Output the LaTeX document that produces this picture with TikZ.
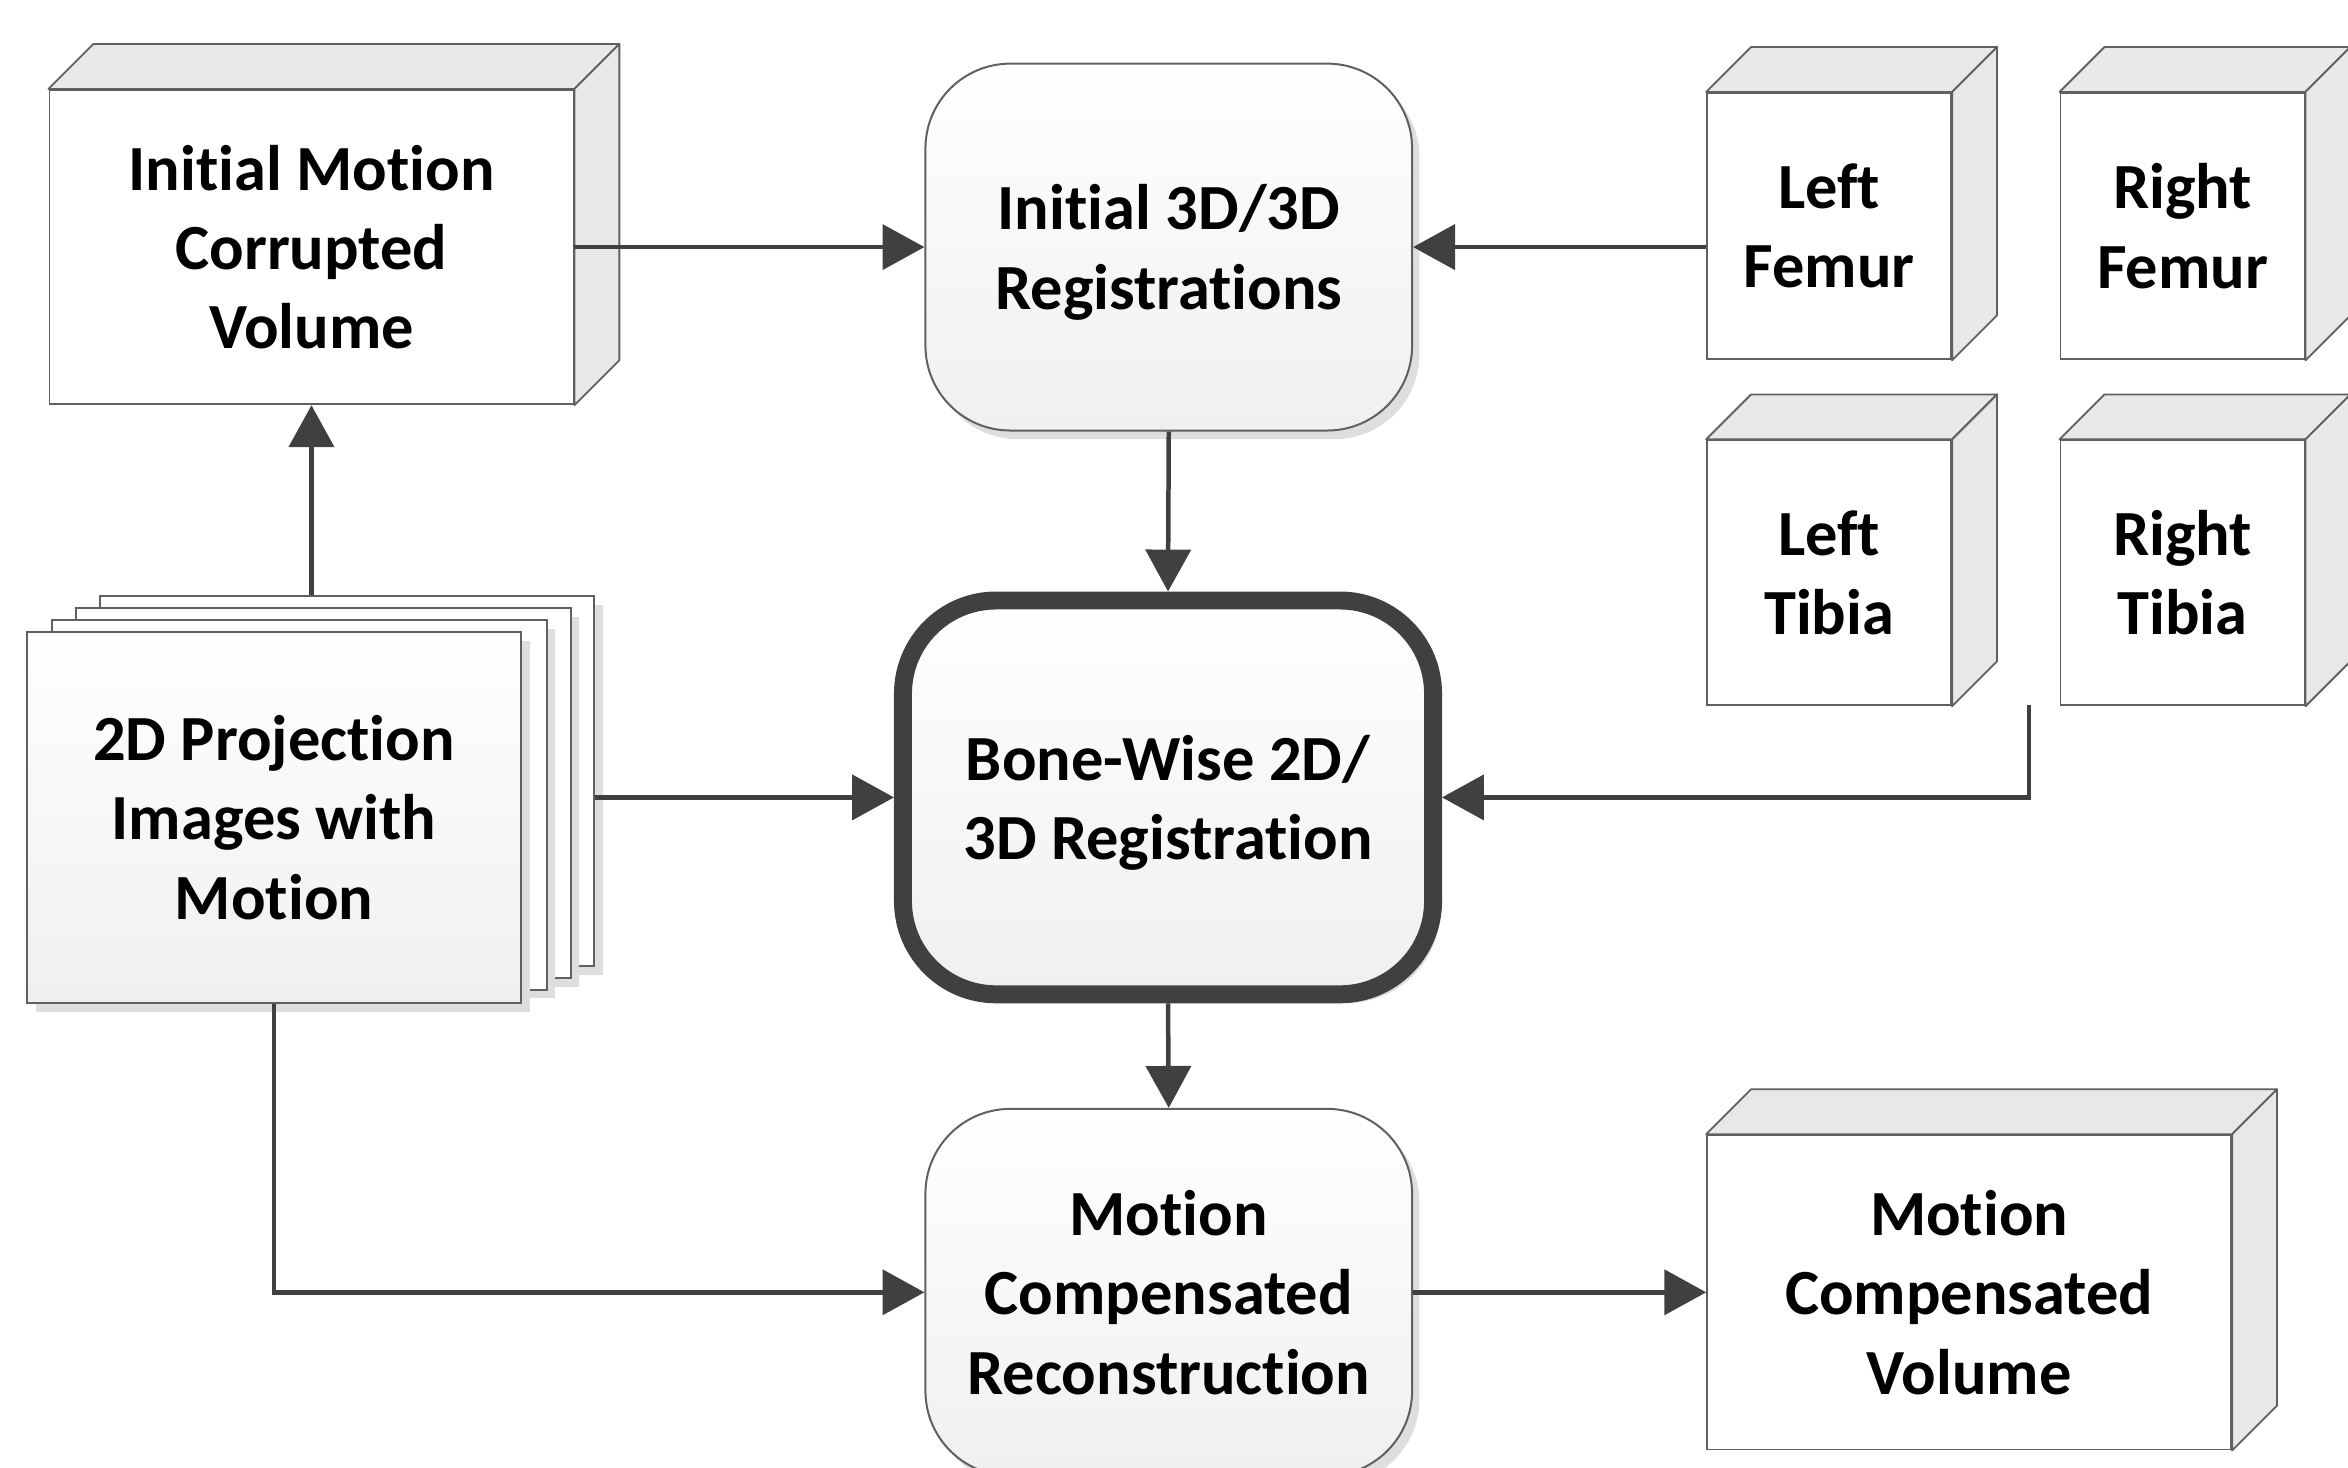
\documentclass[tikz,border=0pt]{standalone}
\usepackage{fontspec}
\setmainfont[Ligatures={TeX,NoCommon}]{Carlito}
\usetikzlibrary{calc,arrows.meta,shadows}
\definecolor{linec}{HTML}{404040}
\definecolor{edgec}{HTML}{606060}
\definecolor{facec}{HTML}{E8E8E8}
\definecolor{shadc}{HTML}{DEDEDE}
\newcommand\pxu{0.45pt}
\newcommand\mycube[6]{%
  \node[front, minimum width=#4*\pxu, minimum height=#5*\pxu] (#1) at (#2,#3) {#6};
  \draw[face] (#1.north west) -- ++(30,-30) -- ($(#1.north east)+(30,-30)$) -- (#1.north east) -- cycle;
  \draw[face] (#1.north east) -- ++(30,-30) -- ($(#1.south east)+(30,-30)$) -- (#1.south east) -- cycle;
}
\begin{document}
\begin{tikzpicture}[x=0.45pt,y=-0.45pt,
  lbl/.style={font=\bfseries\fontsize{19.35}{23.85}\selectfont, align=center, text=black},
  front/.style={draw=edgec, line width=0.55pt, fill=white, inner sep=0pt, lbl},
  face/.style={draw=edgec, line width=0.55pt, fill=facec, line join=round},
  rbox/.style={draw=edgec, line width=0.6pt, rounded corners=25.5pt, top color=white, bottom color=black!6,
    drop shadow={shadow xshift=2.2pt, shadow yshift=-2.6pt, fill=shadc, opacity=1}, lbl, inner sep=0pt},
  page/.style={draw=edgec, line width=0.6pt, fill=white,
    drop shadow={shadow xshift=2.6pt, shadow yshift=-2.6pt, fill=shadc, opacity=1}, inner sep=0pt},
  arr/.style={draw=linec, line width=1.35pt, -{Triangle[length=12.6pt,width=13.5pt]}}
]
\path[use as bounding box, clip] (0,0) rectangle (1568,980);

% cubes
\mycube{imcv}{208}{165}{350}{210}{Initial Motion\\Corrupted\\Volume}
\mycube{lf}{1221.5}{151}{163}{178}{Left\\Femur}
\mycube{rf}{1457.5}{151}{163}{178}{Right\\Femur}
\mycube{lt}{1221.5}{382.5}{163}{177}{Left\\Tibia}
\mycube{rt}{1457.5}{382.5}{163}{177}{Right\\Tibia}
\mycube{mcv}{1315}{863}{350}{210}{Motion\\Compensated\\Volume}

% rounded process boxes
\node[rbox, text depth=0pt, minimum width=325*\pxu, minimum height=245*\pxu] (i3d) at (780.5,165) {Initial 3D/3D\\Registrations};
\node[rbox, text depth=0pt, draw=linec, line width=5.4pt, rounded corners=28pt, minimum width=354*\pxu, minimum height=263*\pxu] (bw) at (780,532.5) {Bone-Wise 2D/\\3D Registration};
\node[rbox, minimum width=325*\pxu, minimum height=245*\pxu] (mcr) at (780.5,863) {Motion\\Compensated\\Reconstruction};

% stack of pages
\node[page, minimum width=330*\pxu, minimum height=247*\pxu] (p4) at (232,521.5) {};
\node[page, minimum width=330*\pxu, minimum height=247*\pxu] (p3) at (216,529.5) {};
\node[page, minimum width=330*\pxu, minimum height=247*\pxu] (p2) at (200,537.5) {};
\node[page, lbl, top color=white, bottom color=black!6, minimum width=330*\pxu, minimum height=248*\pxu] (p1) at (183,546) {2D Projection\\Images with\\Motion};

% connectors
\coordinate (fs) at (1355,471);
\draw[arr] (imcv.east) -- (i3d.west);
\draw[arr] (lf.west |- i3d.east) -- (i3d.east);
\draw[arr] (i3d.south) -- (bw.north);
\draw[arr] (p4.north -| imcv.south) -- (imcv.south);
\draw[arr] (p4.east |- bw.west) -- (bw.west);
\draw[arr] (fs) |- (bw.east);
\draw[arr] (bw.south) -- (mcr.north);
\draw[arr] (p1.south) |- (mcr.west);
\draw[arr] (mcr.east) -- (mcv.west);
\end{tikzpicture}
\end{document}
